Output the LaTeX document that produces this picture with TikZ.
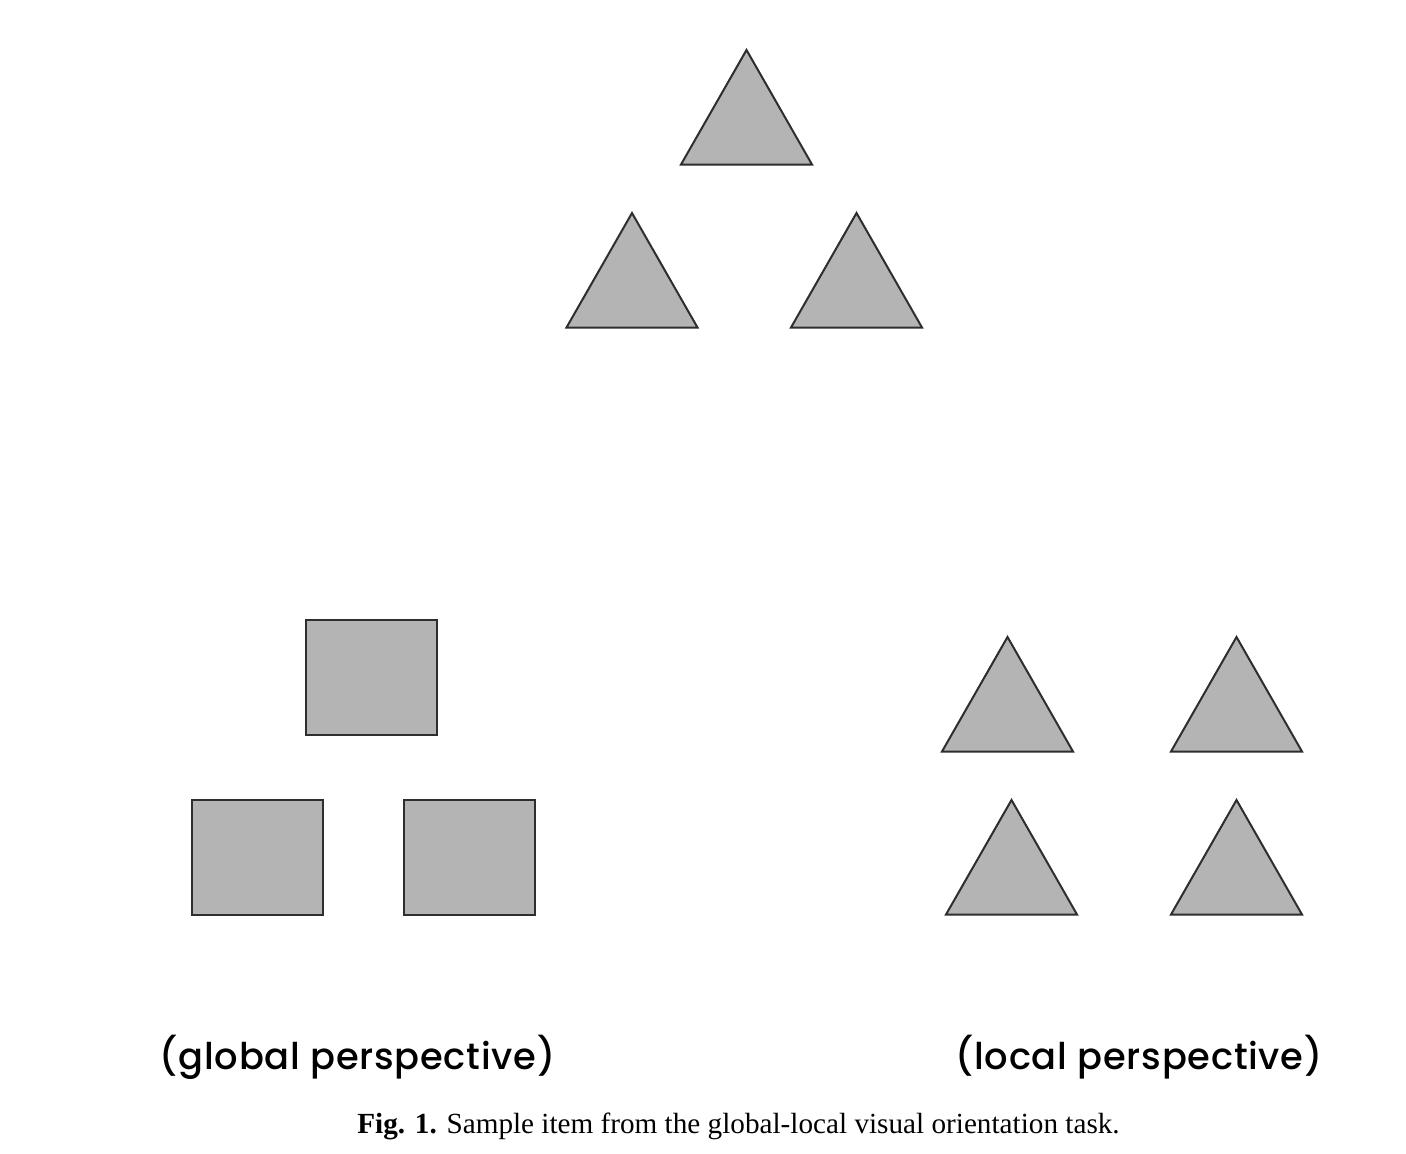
\documentclass[tikz,border=0pt]{standalone}
\usepackage{fontspec}
\setmainfont{Liberation Serif}
\newfontfamily\geofont{Poppins Medium}[LetterSpace=2]
\definecolor{shapefill}{HTML}{B4B4B4}
\definecolor{shapeline}{HTML}{2E2E2E}
\tikzset{
  shapestyle/.style={fill=shapefill, draw=shapeline, line width=2pt, line join=miter},
  labelstyle/.style={font=\geofont\fontsize{36.8}{42}\selectfont, inner sep=0pt, anchor=center},
  captionstyle/.style={font=\fontsize{29.2}{34}\selectfont, inner sep=0pt, anchor=center}
}
\newcommand{\tri}[2]{\draw[shapestyle] (#1,#2) -- ({#1-65.5},{#2+114.5}) -- ({#1+65.5},{#2+114.5}) -- cycle;}
\newcommand{\sqr}[2]{\draw[shapestyle] (#1,#2) rectangle ({#1+131},{#2+115});}
\begin{document}
\begin{tikzpicture}[x=1pt,y=-1pt]
\useasboundingbox[fill=white] (0,0) rectangle (1406,1154);
% top figure (global triangle of triangles)
\tri{746.5}{50}
\tri{632}{213}
\tri{856.5}{213}
% global perspective: squares
\sqr{306}{620}
\sqr{192}{800}
\sqr{404}{800}
% local perspective: triangles
\tri{1007.5}{637}
\tri{1236.5}{637}
\tri{1011.5}{800}
\tri{1236.5}{800}
% labels
\node[labelstyle] (glob) at (357.5,1057) {(global perspective)};
\node[labelstyle] (loc) at (1139,1057) {(local perspective)};
\node[captionstyle] (cap) at (738.5,1126) {\textbf{Fig. 1.} Sample item from the global-local visual orientation task.};
\end{tikzpicture}
\end{document}
